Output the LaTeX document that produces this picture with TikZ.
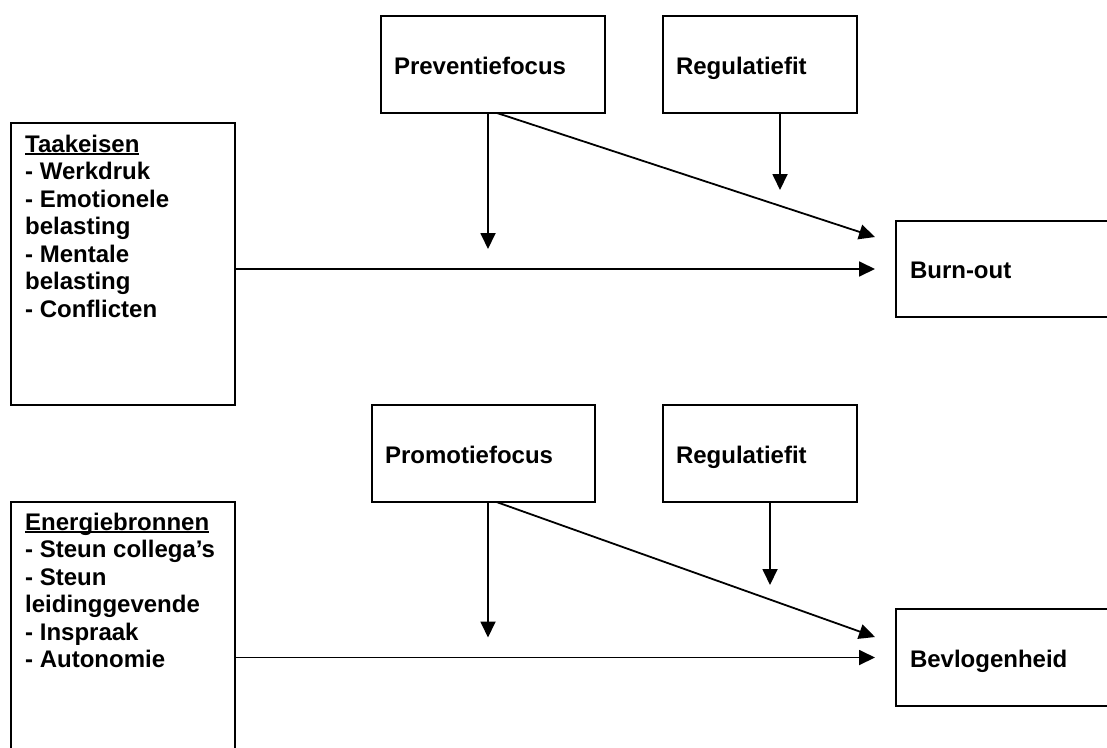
\documentclass[tikz,border=0pt]{standalone}
\usepackage{fontspec}
\setmainfont{Liberation Sans}
\usetikzlibrary{arrows.meta,calc}
\newcommand\ulbold[1]{\sbox0{#1}\rlap{\rule[-3pt]{\wd0}{1.8pt}}\box0}
\begin{document}
\begin{tikzpicture}[x=1pt,y=-1pt,
  box/.style={draw,line width=1.8pt,rectangle,inner sep=0pt,outer sep=0pt,anchor=north west},
  txt/.style={font=\fontsize{24}{27.5}\selectfont\bfseries},
  lbl/.style={txt,align=left,inner sep=0pt,anchor=north west},
  onebox/.style={box,txt,align=left,inner xsep=13pt,text height=19pt,text depth=0pt},
  arr/.style={line width=1.8pt,-{Triangle[length=16pt,width=15pt]}},
]
\useasboundingbox (0,0) rectangle (1107,747);
\clip (0,0) rectangle (1107,747);
\fill[white] (0,0) rectangle (1107,747);

% ---------- top model ----------
\node[box,minimum width=224pt,minimum height=282pt] (taak) at (11,123) {};
\node[lbl] (taaktxt) at (25,134) {\rule{0pt}{18pt}\ulbold{Taakeisen}\\- Werkdruk\\- Emotionele\\belasting\\- Mentale\\belasting\\- Conflicten};
\node[onebox,minimum width=224pt,minimum height=97pt,text width=198pt] (prev) at (381,16) {Preventiefocus};
\node[onebox,minimum width=194pt,minimum height=97pt,text width=168pt] (reg1) at (663,16) {Regulatiefit};
\node[onebox,minimum width=260pt,minimum height=96pt,text width=234pt,inner xsep=14pt] (burn) at (896,221) {Burn-out};

\coordinate (h1) at (488,269);
\coordinate (d1) at (875,237);
\coordinate (r1) at (780,190);
\draw[arr,shorten >=21pt] (taak.east |- burn.west) -- (burn.west);
\draw[arr,shorten >=20pt] (prev.south -| h1) -- (h1);
\draw[arr] ($(prev.south)+(4,0)$) -- (d1);
\draw[arr] (reg1.south -| r1) -- (r1);

% ---------- bottom model ----------
\node[box,minimum width=224pt,minimum height=300pt] (ener) at (11,502) {};
\node[lbl] (enertxt) at (25,512) {\rule{0pt}{18pt}\ulbold{Energiebronnen}\\- Steun collega’s\\- Steun\\leidinggevende\\- Inspraak\\- Autonomie};
\node[onebox,minimum width=223pt,minimum height=97pt,text width=197pt] (prom) at (372,405) {Promotiefocus};
\node[onebox,minimum width=194pt,minimum height=97pt,text width=168pt] (reg2) at (663,405) {Regulatiefit};
\node[onebox,minimum width=260pt,minimum height=97pt,text width=234pt,inner xsep=14pt] (bev) at (896,609) {Bevlogenheid};

\coordinate (h2) at (488,657.5);
\coordinate (d2) at (875,637);
\coordinate (r2) at (770,585);
\draw[arr,shorten >=21pt] (ener.east |- bev.west) -- (bev.west);
\draw[arr,shorten >=20pt] (prom.south -| h2) -- (h2);
\draw[arr] ($(prom.south)+(13,0)$) -- (d2);
\draw[arr] (reg2.south -| r2) -- (r2);
\end{tikzpicture}
\end{document}
